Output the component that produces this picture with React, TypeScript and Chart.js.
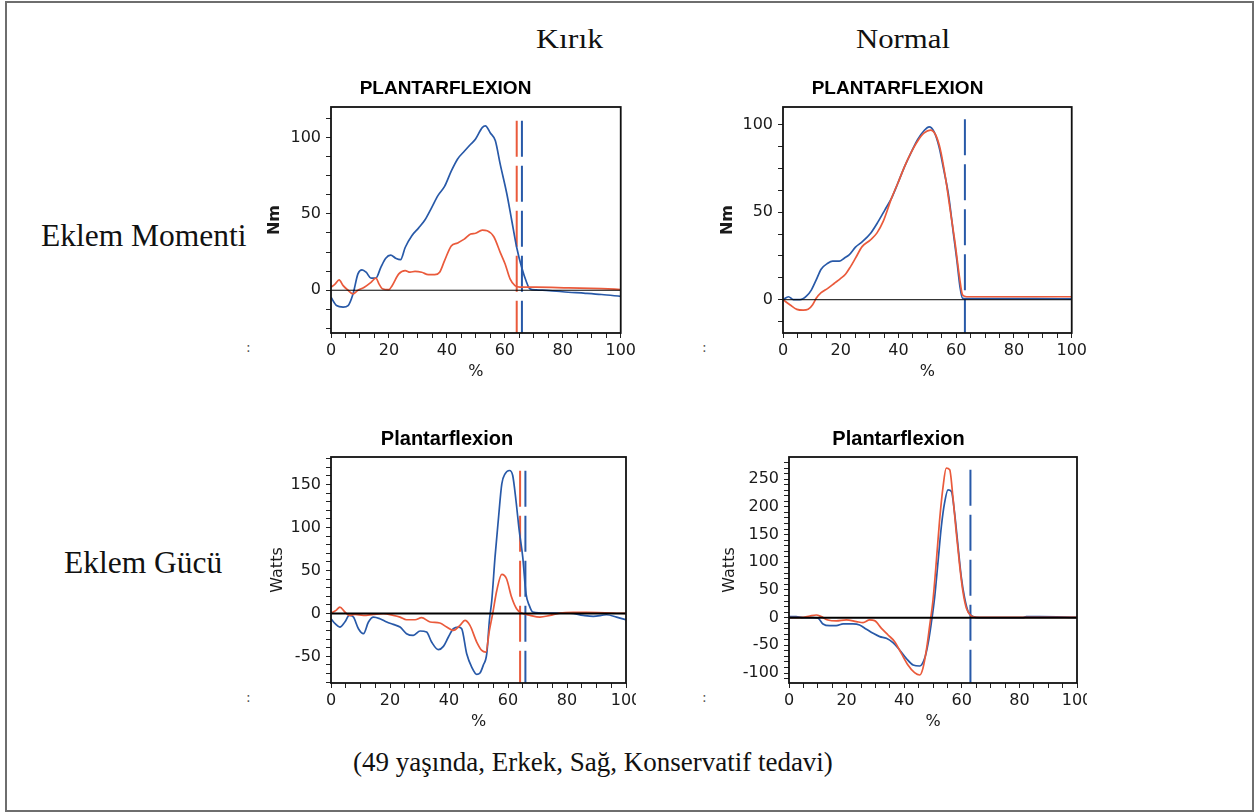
import React, { useEffect, useRef } from 'react';
import { Chart, registerables } from 'chart.js';

Chart.register(...registerables);

// ---------- shared axis ticks ----------
const xTickValues = [0, 5, 10, 15, 20, 25, 30, 35, 40, 45, 50, 55, 60, 65, 70, 75, 80, 85, 90, 95, 100];
const xTickLabels = [0, 20, 40, 60, 80, 100];
const momentTicksBroken = [-25, -12.5, 0, 12.5, 25, 37.5, 50, 62.5, 75, 87.5, 100, 112.5];
const momentTicksNormal = [-12.5, 0, 12.5, 25, 37.5, 50, 62.5, 75, 87.5, 100];
const momentLabels = [0, 50, 100];
const powerTicksBroken = [-80, -70, -60, -50, -40, -30, -20, -10, 0, 10, 20, 30, 40, 50, 60, 70, 80, 90, 100, 110, 120, 130, 140, 150, 160, 170, 180];
const powerLabelsBroken = [-50, 0, 50, 100, 150];
const powerTicksNormal = [-110, -100, -90, -80, -70, -60, -50, -40, -30, -20, -10, 0, 10, 20, 30, 40, 50, 60, 70, 80, 90, 100, 110, 120, 130, 140, 150, 160, 170, 180, 190, 200, 210, 220, 230, 240, 250, 260, 270, 280];
const powerLabelsNormal = [-100, -50, 0, 50, 100, 150, 200, 250];

// ---------- Kırık: Eklem Momenti (Nm) ----------
const momentBrokenRedX = [0, 1.4, 2.8, 4.2, 5.9, 7.6, 9.3, 11.5, 13.8, 15.5, 16.6, 17.7, 20, 21.1, 23.4, 25.6, 27.3, 29, 31.3, 33.6, 35.8, 37.5, 39.2, 41.5, 43.7, 46, 48.2, 49.9, 52.2, 53.9, 56.2, 58.4, 60.1, 61.8, 63.5, 65.2, 70.8, 82, 93.4, 100];
const momentBrokenRedY = [2, 4, 6.8, 3, 0, -2.4, 0, 2, 5.2, 8, 4, 1, 0.4, 3, 10.7, 12.9, 11.8, 12.4, 11.8, 10.2, 10.2, 11.8, 19.4, 29, 31, 33.5, 36.8, 37.3, 39.4, 39, 35, 24.8, 17.2, 7.4, 3, 2, 2, 1.5, 1, 0.5];
const momentBrokenBlueX = [0, 1.9, 4.2, 5.9, 7.6, 9.3, 10.7, 12.1, 13.8, 15.5, 17.2, 18.9, 20.6, 22.3, 24, 25.6, 27.9, 30.2, 32.4, 34.7, 36.9, 39.2, 41.5, 43.7, 46, 48.2, 49.9, 52.2, 53.3, 55, 56.7, 58.4, 60.7, 62.4, 64.1, 65.8, 67.5, 68.6, 70.8, 75.4, 79.9, 87.8, 93.4, 100];
const momentBrokenBlueY = [-4.6, -10, -11, -10, -2.4, 10.7, 13.3, 11.8, 8, 8, 15, 21, 23, 21, 20, 28, 35.7, 40.7, 46, 54, 62, 68, 78, 86, 91, 95.6, 99, 106.5, 107.6, 103, 98, 82.6, 63, 45.5, 28, 15, 5.2, 1, 0.2, -0.2, -1, -2, -2.8, -4];

// ---------- Normal: Eklem Momenti (Nm) ----------
const momentNormalRedX = [0, 2.5, 4.8, 7, 8.7, 10.2, 11.5, 13.2, 15.5, 17.8, 20, 21.7, 23.4, 25.1, 27.4, 30.2, 32.5, 34.7, 37.6, 39.8, 42.1, 44.3, 46.6, 48.9, 51.1, 52.8, 54.5, 56.2, 57.9, 59.6, 61.1, 62.2, 63.6, 100];
const momentNormalRedY = [0, -3, -5.5, -6, -5.5, -3, 0.8, 4, 6.5, 9.4, 12.2, 14.7, 18.9, 23.7, 30.3, 34, 38, 44.7, 58, 66.6, 76, 83.8, 90.5, 95.2, 96.8, 94.3, 85.7, 70.4, 51.3, 32.3, 13.2, 2.7, 1.7, 1.7];
const momentNormalBlueX = [0, 1.9, 3.6, 5.9, 8.1, 9.8, 11.5, 13.2, 15.5, 17.2, 19.5, 21.2, 22.9, 25.1, 27.4, 30.2, 33, 35.3, 37.6, 39.8, 42.1, 44.3, 46.6, 48.9, 50.6, 52.3, 54, 55.7, 57.4, 59, 60.2, 61.3, 62.2, 63.6, 87.3, 100];
const momentNormalBlueY = [0, 1.7, 0, 0, 2, 5.5, 11.3, 17.4, 20.8, 22, 22, 23.7, 25.6, 30, 33, 37.6, 44.7, 51.3, 58, 66.6, 76, 83.8, 91.4, 96.6, 98.7, 96, 87.6, 74, 59, 38, 22.7, 7.4, 0.8, 0.6, 0.6, 0.5];

// ---------- Kırık: Eklem Gücü (Watts) ----------
const powerBrokenRedX = [0, 1.7, 3, 4.7, 6.4, 8.1, 11, 14.4, 17.7, 21.1, 23.4, 25.6, 28.5, 30.7, 33.6, 36.9, 39.2, 41.5, 43.7, 45.4, 47.1, 49.4, 51.1, 52.5, 53.7, 54.8, 56.2, 57.9, 59.5, 61.2, 62.9, 64.6, 67.5, 70.8, 74.2, 77.6, 82.1, 86.6, 100];
const powerBrokenRedY = [0.4, 3.5, 7.4, 1.6, -2.3, -1.2, -2.3, -1.2, -0.4, -2.3, -4.3, -7.4, -7.4, -5, -10, -11.2, -15.9, -19.8, -14, -8.1, -14, -33.3, -43, -45, -19.8, -0.4, 26.7, 45.3, 40.3, 19, 5.4, 0.4, -2.3, -4.3, -2.3, 0.4, 1.2, 1.2, 0];
const powerBrokenBlueX = [0, 1.4, 3, 4.7, 6.2, 7.6, 9.3, 11, 12.7, 14.4, 16.6, 18.9, 21.1, 23.4, 25.6, 27.9, 30.2, 32.4, 34.1, 36.4, 38.1, 39.8, 41.5, 43.2, 44.3, 46, 47.7, 49.4, 50.5, 51.6, 52.8, 53.7, 54.5, 55.6, 56.7, 57.9, 59, 60.5, 61.6, 62.7, 63.8, 65, 66.1, 67.2, 68.4, 73.1, 81, 85.5, 88.9, 93.4, 96.8, 100];
const powerBrokenBlueY = [-6.2, -12, -15.9, -10, -2.3, -4.3, -17.8, -23.6, -10, -4.3, -6.2, -10, -12.8, -15.9, -23.6, -25.6, -20.5, -21.7, -33.3, -42.2, -38.4, -27.5, -17.8, -15.9, -17.8, -46.9, -62.4, -70.9, -69.4, -60.5, -46.9, -8, 15, 65.5, 108, 150.8, 162.4, 166.3, 160.5, 131.4, 96.5, 65.5, 22.9, 9.3, 1.6, 0.4, 0.4, -2.3, -3.5, -1.6, -4.3, -7.4];

// ---------- Normal: Eklem Gücü (Watts) ----------
const powerNormalRedX = [0, 4.9, 7.2, 9.5, 11.2, 13.5, 16.4, 19.9, 23.4, 25.7, 28, 29.7, 32.1, 34.4, 36.7, 39, 41.3, 43.6, 45.4, 46.5, 47.7, 48.8, 50, 51.2, 52.3, 53.5, 54.6, 55.8, 56.9, 58.1, 59.3, 60.4, 61.6, 63.3, 65, 100];
const powerNormalRedY = [0, 0.6, 3, 4.8, 1.8, -4.2, -6, -4.2, -7.2, -9, -4.2, -5.4, -19.3, -31.3, -43.4, -64.5, -85.5, -99.4, -103.6, -91.6, -58.4, -16.3, 31.9, 104.2, 176.5, 236.7, 269.9, 266.9, 218.7, 152.4, 92.2, 47, 16.9, 3, 0.6, 0.6];
const powerNormalBlueX = [0, 2.5, 4.9, 8.3, 10.1, 11.8, 14.1, 16.4, 18.8, 22.2, 24.5, 26.9, 29.2, 31.5, 33.8, 36.1, 38.4, 40.7, 43.1, 45.4, 47.1, 48.3, 49.4, 50.6, 51.7, 52.9, 54, 55.2, 56.4, 57.5, 58.7, 59.8, 61, 62.2, 63.9, 66.2, 81.3, 82.4, 87, 100];
const powerNormalBlueY = [1.8, 1.8, 0, 0, -1.2, -11.4, -14.5, -14.5, -11.4, -11.4, -13.3, -21, -28.3, -34.3, -37.3, -45.2, -58.4, -73.5, -85.5, -87.3, -73.5, -46.4, -10.2, 38, 98.2, 164.5, 206.6, 230.7, 227.7, 188.6, 128.3, 74, 35, 10.8, 1.8, 0, 0, 1.8, 1.8, 0.5];

// ---------- toe-off markers (% of cycle) ----------
const markerBrokenRed = 64.1;
const markerBrokenBlue = 65.9;
const markerNormalBlue = 63;

const RED = '#ea5a3b';
const BLUE = '#2859a8';

const pts = (xs: number[], ys: number[]) => xs.map((x, i) => ({ x, y: ys[i] }));

const framePlugin = {
  id: 'frame',
  afterDatasetsDraw(chart: any) {
    const { ctx, chartArea } = chart;
    ctx.save();
    ctx.strokeStyle = '#111';
    ctx.lineWidth = 1.8;
    ctx.strokeRect(chartArea.left, chartArea.top, chartArea.right - chartArea.left, chartArea.bottom - chartArea.top);
    ctx.restore();
  },
};

interface Box {
  canvasLeft: number; canvasTop: number; canvasRight: number; canvasBottom: number; clipRight: number;
  plotLeft: number; plotTop: number; plotRight: number; plotBottom: number;
  titleY: number; xTitleY: number;
}

interface PanelProps {
  box: Box;
  title: string;
  titleSize: number;
  yTitle: string;
  yTitleBold: boolean;
  yMin: number; yMax: number;
  yTicks: number[]; yLabels: number[];
  red: { x: number; y: number }[];
  blue: { x: number; y: number }[];
  markers: { x: number; color: string }[];
  markerTop: number;
  zeroWidth: number;
}

function Panel(p: PanelProps) {
  const ref = useRef<HTMLCanvasElement>(null);
  const b = p.box;
  const W = b.canvasRight - b.canvasLeft;
  const H = b.canvasBottom - b.canvasTop;

  useEffect(() => {
    if (!ref.current) return;
    const titleLH = p.titleSize * 1.2;
    const titlePadTop = b.titleY - b.canvasTop - titleLH / 2;
    const titlePadBottom = b.plotTop - b.canvasTop - titlePadTop - titleLH;
    const axisFont = { family: '"DejaVu Sans", sans-serif', size: 16 };
    const axisLH = 16 * 1.2;

    const datasets: any[] = [
      {
        data: [{ x: 0, y: 0 }, { x: 100, y: 0 }],
        borderColor: '#000', borderWidth: p.zeroWidth, pointRadius: 0,
      },
      { data: p.red, borderColor: RED, borderWidth: 1.7, pointRadius: 0, cubicInterpolationMode: 'monotone' },
      { data: p.blue, borderColor: BLUE, borderWidth: 1.7, pointRadius: 0, cubicInterpolationMode: 'monotone' },
      ...p.markers.map((m) => ({
        data: [{ x: m.x, y: p.markerTop }, { x: m.x, y: p.yMin }],
        borderColor: m.color, borderWidth: 2, borderDash: [36, 9], pointRadius: 0,
      })),
    ];

    const chart = new Chart(ref.current, {
      type: 'line',
      data: { datasets },
      plugins: [framePlugin],
      options: {
        animation: false,
        responsive: false,
        events: [],
        layout: { autoPadding: false, padding: { left: 0, top: 0, bottom: 0, right: b.canvasRight - b.plotRight } },
        plugins: {
          legend: { display: false },
          tooltip: { enabled: false },
          title: {
            display: true,
            text: p.title,
            color: '#000',
            font: { family: '"Liberation Sans", Arial, sans-serif', size: p.titleSize, weight: 'bold' },
            padding: { top: titlePadTop, bottom: titlePadBottom },
          },
        },
        scales: {
          x: {
            type: 'linear',
            min: 0, max: 100,
            afterBuildTicks: (axis: any) => { axis.ticks = xTickValues.map((v) => ({ value: v })); },
            afterFit: (axis: any) => { axis.height = b.canvasBottom - b.plotBottom; },
            grid: { drawOnChartArea: false, drawTicks: true, tickLength: 5, color: '#222', lineWidth: 1 },
            border: { display: false },
            ticks: {
              autoSkip: false, maxRotation: 0, padding: 3, color: '#1a1a1a', font: axisFont,
              callback: (v: any) => (xTickLabels.includes(Number(v)) ? String(v) : ''),
            },
            title: { display: true, text: '%', color: '#1a1a1a', font: axisFont, padding: { top: 0, bottom: b.canvasBottom - b.xTitleY - axisLH / 2 } },
          },
          y: {
            type: 'linear',
            min: p.yMin, max: p.yMax,
            afterBuildTicks: (axis: any) => { axis.ticks = p.yTicks.map((v) => ({ value: v })); },
            afterFit: (axis: any) => { axis.width = b.plotLeft - b.canvasLeft; },
            grid: { drawOnChartArea: false, drawTicks: true, tickLength: 5, color: '#222', lineWidth: 1 },
            border: { display: false },
            ticks: {
              autoSkip: false, padding: 5, color: '#1a1a1a', font: axisFont,
              callback: (v: any) => (p.yLabels.includes(Number(v)) ? String(v) : ''),
            },
            title: {
              display: true, text: p.yTitle, color: '#1a1a1a',
              font: { ...axisFont, weight: p.yTitleBold ? 'bold' : 'normal' },
              padding: { top: 0, bottom: 0 },
            },
          },
        },
      } as any,
    });
    return () => chart.destroy();
  }, []);

  return (
    <div style={{ position: 'absolute', left: b.canvasLeft, top: b.canvasTop, width: b.clipRight - b.canvasLeft, height: H, overflow: 'hidden' }}>
      <canvas ref={ref} width={W} height={H} style={{ width: W, height: H, display: 'block' }} />
    </div>
  );
}

const serif = '"Liberation Serif", "Times New Roman", serif';

function Label({ text, left, baseline, size, scaleX = 1 }: { text: string; left: number; baseline: number; size: number; scaleX?: number }) {
  return (
    <div style={{
      position: 'absolute', left, top: baseline - 0.8375 * size, fontFamily: serif, fontSize: size, lineHeight: 1,
      whiteSpace: 'nowrap', color: '#111', transform: `scaleX(${scaleX})`, transformOrigin: 'left top',
    }}>{text}</div>
  );
}

function Dots({ left, top }: { left: number; top: number }) {
  return (
    <div style={{ position: 'absolute', left, top, fontFamily: '"DejaVu Sans", sans-serif', fontSize: 14, lineHeight: 1, color: '#555' }}>:</div>
  );
}

export default function App() {
  return (
    <div style={{ position: 'absolute', left: 0, top: 0, width: 1257, height: 812, background: '#fff', overflow: 'hidden' }}>
      <div style={{ position: 'absolute', left: 5, top: 1, width: 1249, height: 811, boxSizing: 'border-box', border: '2px solid #6e6e6e' }} />

      <Label text="Kırık" left={536} baseline={49} size={27} scaleX={1.18} />
      <Label text="Normal" left={856} baseline={49} size={27} scaleX={1.14} />
      <Label text="Eklem Momenti" left={41} baseline={246} size={31.5} />
      <Label text="Eklem Gücü" left={64} baseline={573} size={31.5} />
      <Label text="(49 yaşında, Erkek, Sağ, Konservatif tedavi)" left={353} baseline={772} size={27} />

      <Dots left={246} top={340} />
      <Dots left={702} top={340} />
      <Dots left={246} top={690} />
      <Dots left={702} top={690} />

      <Panel
        box={{ canvasLeft: 265, canvasTop: 65, canvasRight: 639, canvasBottom: 383, clipRight: 636, plotLeft: 331, plotTop: 107, plotRight: 626, plotBottom: 333, titleY: 89, xTitleY: 372 }}
        title="PLANTARFLEXION" titleSize={19} yTitle="Nm" yTitleBold={true}
        yMin={-28} yMax={120} yTicks={momentTicksBroken} yLabels={momentLabels}
        red={pts(momentBrokenRedX, momentBrokenRedY)} blue={pts(momentBrokenBlueX, momentBrokenBlueY)}
        markers={[{ x: markerBrokenRed, color: RED }, { x: markerBrokenBlue, color: BLUE }]} markerTop={111} zeroWidth={1}
      />
      <Panel
        box={{ canvasLeft: 718, canvasTop: 65, canvasRight: 1090, canvasBottom: 383, clipRight: 1087, plotLeft: 783, plotTop: 107, plotRight: 1077, plotBottom: 333, titleY: 89, xTitleY: 372 }}
        title="PLANTARFLEXION" titleSize={19} yTitle="Nm" yTitleBold={true}
        yMin={-19} yMax={110} yTicks={momentTicksNormal} yLabels={momentLabels}
        red={pts(momentNormalRedX, momentNormalRedY)} blue={pts(momentNormalBlueX, momentNormalBlueY)}
        markers={[{ x: markerNormalBlue, color: BLUE }]} markerTop={103} zeroWidth={1}
      />
      <Panel
        box={{ canvasLeft: 268, canvasTop: 415, canvasRight: 682, canvasBottom: 733, clipRight: 636, plotLeft: 331, plotTop: 457, plotRight: 626, plotBottom: 683, titleY: 439, xTitleY: 722 }}
        title="Plantarflexion" titleSize={20} yTitle="Watts" yTitleBold={false}
        yMin={-81} yMax={182} yTicks={powerTicksBroken} yLabels={powerLabelsBroken}
        red={pts(powerBrokenRedX, powerBrokenRedY)} blue={pts(powerBrokenBlueX, powerBrokenBlueY)}
        markers={[{ x: markerBrokenRed, color: RED }, { x: markerBrokenBlue, color: BLUE }]} markerTop={166} zeroWidth={2}
      />
      <Panel
        box={{ canvasLeft: 720, canvasTop: 415, canvasRight: 1134, canvasBottom: 733, clipRight: 1087, plotLeft: 789, plotTop: 457, plotRight: 1077, plotBottom: 683, titleY: 439, xTitleY: 722 }}
        title="Plantarflexion" titleSize={20} yTitle="Watts" yTitleBold={false}
        yMin={-118} yMax={290} yTicks={powerTicksNormal} yLabels={powerLabelsNormal}
        red={pts(powerNormalRedX, powerNormalRedY)} blue={pts(powerNormalBlueX, powerNormalBlueY)}
        markers={[{ x: markerNormalBlue, color: BLUE }]} markerTop={267} zeroWidth={2}
      />
    </div>
  );
}
